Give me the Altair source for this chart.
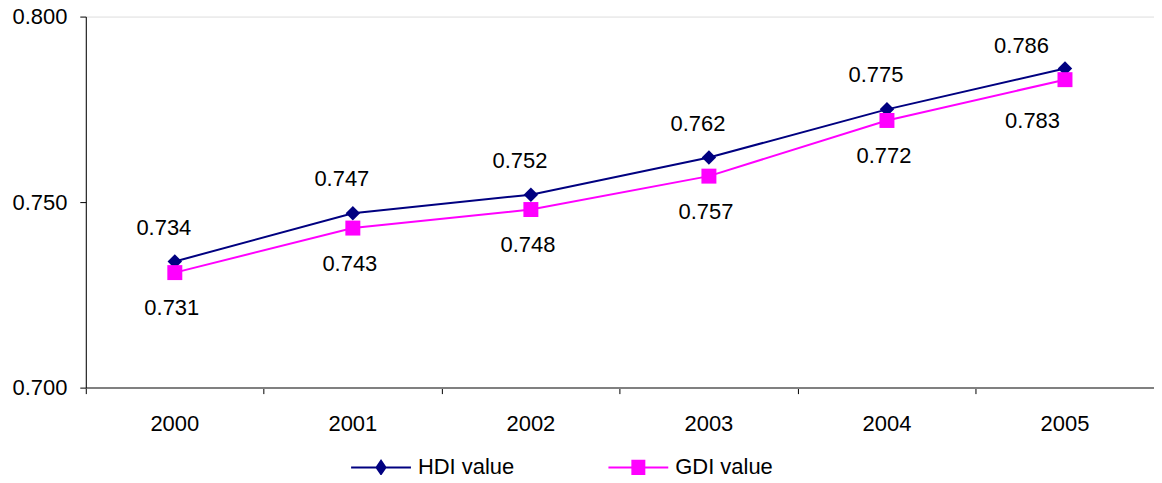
import altair as alt
import pandas as pd

years = ["2000", "2001", "2002", "2003", "2004", "2005"]
hdi_values = [0.734, 0.747, 0.752, 0.762, 0.775, 0.786]
gdi_values = [0.731, 0.743, 0.748, 0.757, 0.772, 0.783]
series_names = ["HDI value", "GDI value"]
series_colors = ["#000080", "#FF00FF"]
y_ticks = [0.700, 0.750, 0.800]

rows = []
for name, vals in zip(series_names, [hdi_values, gdi_values]):
    for yr, v in zip(years, vals):
        rows.append({"year": yr, "value": v, "series": name, "label": f"{v:.3f}"})
df = pd.DataFrame(rows)

FONT = "Liberation Sans"
FS = 22

x_enc = alt.X(
    "year:O",
    scale=alt.Scale(type="band", domain=years, paddingInner=0, paddingOuter=0),
    axis=alt.Axis(
        title=None, labelAngle=0, bandPosition=0,
        domainColor="#808080", domainWidth=2, tickColor="#000000", tickSize=6,
        labelFont=FONT, labelFontSize=FS, labelColor="#000000", labelPadding=20,
        grid=False,
    ),
)
y_enc = alt.Y(
    "value:Q",
    scale=alt.Scale(domain=[0.7, 0.8], nice=False, zero=False),
    axis=alt.Axis(
        title=None, values=y_ticks, format=".3f", domainColor="#000000",
        domainWidth=1, tickColor="#000000", tickSize=6, labelFont=FONT,
        labelFontSize=FS, labelColor="#000000", labelPadding=13, grid=False,
    ),
)

fill_scale = alt.Scale(domain=series_names, range=series_colors)
stroke_scale = alt.Scale(domain=series_names, range=series_colors)
legend_paths = [
    "M-1,0L1,0M0,-0.22L0.15,0L0,0.22L-0.15,0Z",
    "M-1,0L1,0M-0.2,-0.22L0.2,-0.22L0.2,0.22L-0.2,0.22Z",
]

leg = alt.Legend(
    title=None, orient="none", legendX=265, legendY=421, direction="horizontal",
    columnPadding=90, labelOffset=6, symbolSize=3600, symbolStrokeWidth=2,
    labelFont=FONT, labelFontSize=FS, labelColor="#000000", symbolOpacity=1,
)

base = alt.Chart(df)

lines = base.mark_line(strokeWidth=2).encode(
    x=x_enc, y=y_enc,
    stroke=alt.Stroke("series:N", scale=stroke_scale, legend=leg),
)

pts_hdi = base.transform_filter(alt.datum.series == "HDI value").mark_point(
    filled=True, shape="diamond", size=210, opacity=1
).encode(x=x_enc, y=y_enc, fill=alt.Fill("series:N", scale=fill_scale, legend=leg))

pts_gdi = base.transform_filter(alt.datum.series == "GDI value").mark_point(
    filled=True, shape="square", size=225, opacity=1
).encode(x=x_enc, y=y_enc, fill=alt.Fill("series:N", scale=fill_scale, legend=leg))

legend_layer = base.mark_point(
    filled=True, strokeWidth=2, opacity=0
).encode(
    x=x_enc, y=y_enc,
    fill=alt.Fill("series:N", scale=fill_scale, legend=leg),
    stroke=alt.Stroke("series:N", scale=stroke_scale, legend=leg),
    shape=alt.Shape("series:N", scale=alt.Scale(domain=series_names, range=legend_paths), legend=leg),
)

def labels(series, last, **kw):
    cond = (alt.datum.series == series) & ((alt.datum.year == "2005") if last else (alt.datum.year != "2005"))
    return base.transform_filter(cond).mark_text(
        font=FONT, fontSize=FS, color="#000000", baseline="middle", **kw
    ).encode(x=x_enc, y=y_enc, text="label:N")

txt = [
    labels("HDI value", False, align="center", dx=-11, dy=-34),
    labels("HDI value", True, align="right", dx=-16, dy=-23),
    labels("GDI value", False, align="center", dx=-3, dy=36),
    labels("GDI value", True, align="right", dx=-5, dy=41),
]

chart = alt.layer(lines, pts_hdi, pts_gdi, legend_layer, *txt).properties(
    width=1071, height=372,
    autosize=alt.AutoSizeParams(type="none"),
    padding={"left": 78, "top": 8, "right": 0, "bottom": 87},
).configure_view(stroke=None).configure(font=FONT, background="white")

chart.save("out.html", embed_options={"renderer": "svg", "actions": False})
